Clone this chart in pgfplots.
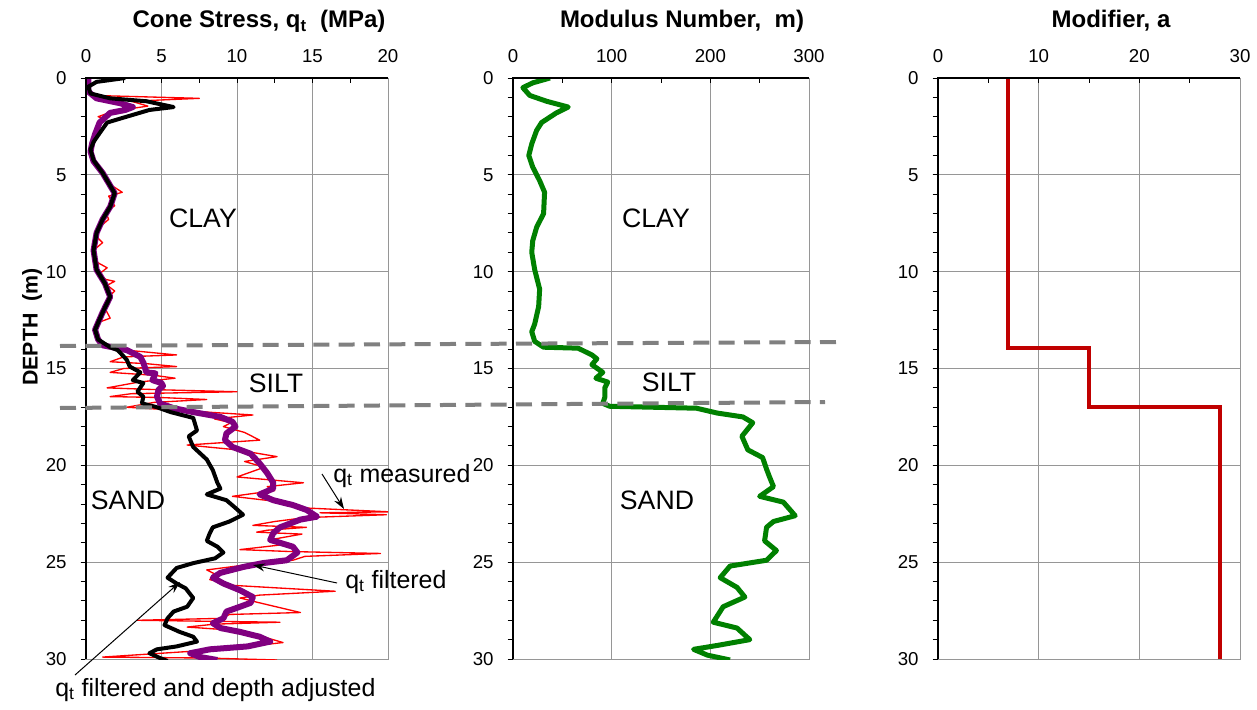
\documentclass[border=0pt]{standalone}
\usepackage{pgfplots}
\pgfplotsset{compat=1.18}
\usepackage{fontspec}
\setmainfont{Liberation Sans}
\usetikzlibrary{arrows.meta}

\definecolor{qmeas}{RGB}{255,0,0}
\definecolor{qfilt}{RGB}{128,0,128}
\definecolor{modgreen}{RGB}{0,128,0}
\definecolor{moddark}{RGB}{192,0,0}
\definecolor{gridgray}{RGB}{150,150,150}
\definecolor{dashgray}{RGB}{128,128,128}

\pgfplotsset{
  well/.style={
    scale only axis, anchor=north west, height=435.75pt,
    y dir=reverse, ymin=0, ymax=30, ytick={0,5,...,30}, minor ytick={1,...,29},
    xtick pos=top, ytick pos=left, xticklabel pos=top,
    xtick align=inside, ytick align=outside,
    grid=major, major grid style={gridgray, line width=0.75pt},
    axis line style={gridgray, line width=0.75pt},
    tick style={black, line width=0.75pt},
    major tick length=4pt, minor tick length=4pt,
    tick label style={font=\fontsize{14}{16}\selectfont},
    xticklabel style={yshift=8pt},
    yticklabel style={xshift=-7pt},
    /pgf/number format/assume math mode=true,
  }
}

\begin{document}
\begin{tikzpicture}[x=0.75pt, y=-0.75pt]
\useasboundingbox (0,0) rectangle (1257,710);

% ---- panel 1: cone stress
\begin{axis}[well, name=a1, at={(64.5pt,-58.5pt)}, width=226.5pt,
  xmin=0, xmax=20, xtick={0,5,...,20}, minor xtick={2.5,7.5,12.5,17.5}]
% q_t measured
\addplot[qmeas, line width=1pt, line join=round] coordinates {
  (0.2,0) (0.1,0.5) (0.5,0.9) (7.5,1.05) (3.0,1.2) (4.1,1.45) (2.8,1.6) (1.5,1.8)
  (0.8,2.0) (1.2,2.1) (0.7,2.6) (0.4,3.2) (0.3,3.8) (0.6,4.4) (1.0,4.9) (1.4,5.4)
  (2.4,5.9) (1.5,6.1) (1.9,6.6) (1.3,6.9) (1.5,7.3) (0.9,7.7) (0.7,8.2) (1.1,8.5)
  (0.5,8.9) (0.7,9.5) (1.4,9.8) (0.9,10.1) (1.3,10.4) (1.9,10.5) (1.4,10.7) (1.9,11.0)
  (1.5,11.3) (1.2,11.8) (1.6,12.4) (0.9,12.6) (0.6,13.1) (0.9,13.6) (2.0,14.0) (6.0,14.3)
  (2.5,14.4) (1.6,14.65) (4.0,14.75) (6.0,14.9) (2.5,15.0) (1.6,15.2) (4.5,15.35) (5.9,15.5)
  (3.5,15.7) (1.4,16.0) (5.0,16.1) (10.0,16.2) (3.0,16.3) (1.6,16.45) (5.0,16.5) (8.0,16.6)
  (4.5,16.75) (2.7,17.0) (7.0,17.2) (11.05,17.4) (8.5,17.6) (9.6,17.8) (9.1,18.0) (10.5,18.3)
  (11.5,18.7) (6.7,18.95) (10.0,19.2) (12.65,19.55) (10.5,19.8) (11.8,20.1) (10.0,20.6) (14.4,20.9)
  (12.0,21.1) (12.5,21.3) (9.7,21.6) (13.0,21.9) (14.5,22.2) (20.1,22.4) (15.5,22.45) (19.9,22.55)
  (14.5,22.7) (12.5,22.9) (11.05,23.1) (14.6,23.2) (12.0,23.35) (11.3,23.45) (14.3,23.55) (12.5,23.8)
  (13.0,24.1) (10.2,24.35) (13.5,24.45) (19.5,24.55) (14.5,24.7) (13.7,24.9) (11.0,25.1) (8.0,25.4)
  (8.5,25.6) (8.2,25.9) (9.8,26.2) (16.5,26.5) (11.5,26.7) (10.2,26.85) (11.5,27.1) (14.2,27.6)
  (9.5,27.7) (9.0,27.9) (3.4,28.0) (8.0,28.05) (12.85,28.1) (8.5,28.2) (6.7,28.35) (9.5,28.5)
  (11.5,28.8) (13.05,29.15) (9.5,29.45) (7.0,29.6) (1.1,29.9) (8.0,29.95) (12.65,30.05)};
% q_t filtered
\addplot[qfilt, line width=4.5pt, line join=round] coordinates {
  (0.15,0) (0.15,0.7) (0.7,1.05) (2.25,1.3) (3.1,1.5) (2.6,1.65) (1.6,1.8) (0.9,2.3)
  (0.6,2.9) (0.4,3.4) (0.3,3.8) (0.5,4.3) (1.1,4.9) (1.9,5.95) (1.6,6.65) (1.1,7.3)
  (0.7,8.0) (0.5,8.9) (0.7,9.9) (1.25,10.6) (1.6,11.3) (1.1,12.1) (0.6,13.0) (0.8,13.5)
  (1.1,13.8) (2.7,14.05) (3.6,14.4) (3.8,14.7) (4.0,15.2) (4.6,15.25) (4.4,15.6) (5.0,15.75)
  (5.1,15.9) (4.8,16.1) (4.7,16.45) (4.9,16.8) (5.8,17.05) (7.1,17.25) (8.9,17.5) (9.7,17.75)
  (9.9,18.0) (9.3,18.35) (9.2,18.7) (9.7,19.05) (10.9,19.4) (11.5,19.9) (12.0,20.4) (12.4,20.9)
  (12.4,21.2) (11.5,21.5) (12.4,21.8) (13.7,22.05) (14.6,22.3) (15.3,22.65) (14.2,22.8) (12.85,23.2)
  (12.4,23.5) (12.2,23.85) (12.85,24.0) (13.7,24.2) (14.0,24.5) (13.3,24.9) (11.7,25.05) (10.4,25.25)
  (8.9,25.55) (8.4,25.8) (9.1,26.1) (10.2,26.45) (11.05,26.8) (10.9,27.1) (10.2,27.3) (9.3,27.55)
  (9.1,27.9) (8.4,28.15) (8.9,28.4) (10.2,28.6) (11.5,28.85) (12.2,29.1) (10.7,29.35) (8.2,29.5)
  (6.9,29.7) (7.55,29.9) (8.7,30.05)};
% q_t filtered and depth adjusted
\addplot[black, line width=3pt, line join=round] coordinates {
  (2.6,0) (0.7,0.2) (0.15,0.45) (0.3,0.8) (1.6,1.05) (4.0,1.2) (5.8,1.5) (4.2,1.65)
  (2.25,2.1) (1.4,2.3) (0.9,2.85) (0.5,3.3) (0.3,3.7) (0.5,4.25) (1.1,4.9) (1.9,5.95)
  (1.6,6.65) (1.1,7.3) (0.7,8.0) (0.5,8.9) (0.7,9.9) (1.25,10.6) (1.6,11.3) (1.1,12.1)
  (0.6,13.0) (0.8,13.5) (1.6,13.9) (2.1,14.05) (2.7,14.55) (2.9,14.9) (3.6,15.2) (3.1,15.6)
  (3.8,15.75) (3.4,16.2) (3.8,16.45) (3.7,16.8) (4.7,17.0) (5.6,17.25) (7.1,17.55) (7.35,18.2)
  (6.8,18.5) (7.1,19.05) (8.0,19.7) (8.4,20.25) (8.7,20.9) (8.9,21.2) (8.0,21.5) (9.3,21.8)
  (9.9,22.2) (10.4,22.55) (9.5,22.9) (8.4,23.2) (8.2,23.5) (8.0,23.9) (8.7,24.2) (9.1,24.5)
  (8.55,24.8) (7.1,25.05) (6.0,25.3) (5.4,25.8) (6.0,26.1) (6.6,26.35) (7.1,26.85) (6.7,27.3)
  (5.8,27.55) (5.4,27.9) (5.2,28.25) (6.2,28.6) (7.1,28.85) (7.35,29.1) (6.0,29.35) (4.7,29.5)
  (4.2,29.7) (4.9,29.95) (5.4,30.1)};
\end{axis}
\draw[line width=1.5pt] (a1.south west) -- (a1.north west) -- (a1.north east);

% ---- panel 2: modulus number
\begin{axis}[well, name=a2, at={(384.75pt,-58.5pt)}, width=222pt,
  xmin=0, xmax=300, xtick={0,100,200,300}, minor xtick={50,150,250}]
\addplot[modgreen, line width=3.75pt, line join=round] coordinates {
  (37.5,0) (20,0.25) (10,0.5) (17,0.9) (34,1.2) (56,1.5) (44,1.8) (29,2.3)
  (24,2.7) (19,3.4) (16,4.0) (20,4.6) (27,5.3) (32,5.9) (31,7.0) (24,7.7)
  (20,8.4) (19,9.0) (22,9.9) (27,10.9) (26,11.8) (22,12.7) (19,13.1) (22,13.6)
  (31,13.9) (66,13.95) (80,14.3) (85,14.5) (80,14.8) (91,15.2) (84,15.5) (96,15.7)
  (93,16.0) (93,16.5) (91,16.8) (98,16.95) (186,17.05) (207,17.3) (233,17.5) (243,17.8)
  (232,18.5) (238,19.2) (253,19.6) (257,20.2) (260,20.6) (264,21.1) (250,21.6) (274,21.9)
  (286,22.6) (264,22.9) (257,23.2) (255,23.9) (267,24.4) (257,24.9) (220,25.2) (210,25.8)
  (227,26.3) (235,26.8) (213,27.3) (203,28.1) (227,28.4) (240,29.0) (207,29.3) (183,29.5)
  (197,29.8) (220,30.05)};
\end{axis}
\draw[line width=1.5pt] (a2.south west) -- (a2.north west) -- (a2.north east);

% ---- panel 3: modifier
\begin{axis}[well, name=a3, at={(703.5pt,-58.5pt)}, width=226.5pt,
  xmin=0, xmax=30, xtick={0,10,20,30}, minor xtick={5,15,25}]
\addplot[moddark, line width=3pt] coordinates {
  (7,0) (7,13.95) (15,13.95) (15,17.0) (28,17.0) (28,30)};
\end{axis}
\draw[line width=1.5pt] (a3.south west) -- (a3.north west) -- (a3.north east);

% ---- layer boundaries
\draw[dashgray, line width=3pt, dash pattern=on 12pt off 7pt] (60,346) -- (840,342);
\draw[dashgray, line width=3pt, dash pattern=on 12pt off 7pt] (60,408) -- (825,402);

% ---- titles
\node[anchor=base, inner sep=0, font=\fontsize{18}{21}\selectfont\bfseries] at (259,28)
  {Cone Stress, q\textsubscript{t}\ \ (MPa)};
\node[anchor=base, inner sep=0, font=\fontsize{18}{21}\selectfont\bfseries] at (682,28)
  {Modulus Number,\ \ m)};
\node[anchor=base, inner sep=0, font=\fontsize{18}{21}\selectfont\bfseries] at (1111,28)
  {Modifier, a};
\node[rotate=90, inner sep=0, font=\fontsize{16}{19}\selectfont\bfseries] at (32,327)
  {DEPTH\ \ (m)};

% ---- soil labels
\begin{scope}[every node/.style={inner sep=0, font=\fontsize{20}{24}\selectfont}]
\node at (203,218) {CLAY};
\node at (656,218) {CLAY};
\node at (276,383) {SILT};
\node at (669,382) {SILT};
\node at (128,500) {SAND};
\node at (657,500) {SAND};
\end{scope}

% ---- annotations
\begin{scope}[every node/.style={inner sep=0, font=\fontsize{18.7}{22}\selectfont}]
\node[anchor=west] at (333,476) {q\textsubscript{t} measured};
\node[anchor=west] at (345,582) {q\textsubscript{t} filtered};
\node[anchor=west] at (55,690) {q\textsubscript{t} filtered and depth adjusted};
\end{scope}
\draw[line width=0.75pt, -{Stealth[length=9pt, width=6pt]}] (322,474) -- (344,509);
\draw[line width=0.75pt, -{Stealth[length=9pt, width=6pt]}] (337,583) -- (253,565);
\draw[line width=0.75pt, -{Stealth[length=9pt, width=6pt]}] (75,675) -- (180,582);
\end{tikzpicture}
\end{document}
